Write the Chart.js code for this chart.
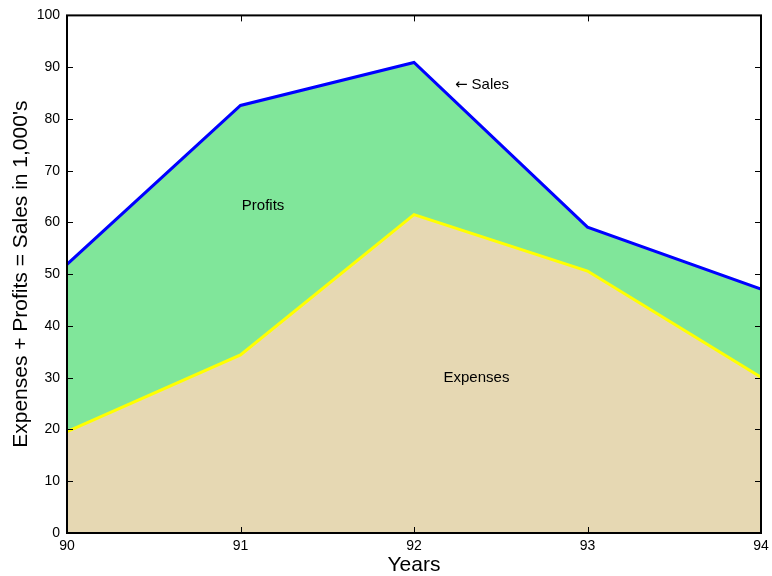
<!doctype html>
<html>

<head>
    <meta charset="utf-8" />
    <title>Sales = Expenses + Profits</title>
    <style>
        html,
        body {
            margin: 0px;
            padding: 0px;
            background-color: #ffffff;
        }

        .chart {
            width: 772px;
            height: 576px;
        }
    </style>
</head>

<body>

    <div class="chart">
        <canvas id="chart_area"></canvas>
    </div>

    <script src="https://cdn.jsdelivr.net/npm/chart.js@4.4.0/dist/chart.umd.min.js"></script>

    <script>

        var years = [90, 91, 92, 93, 94];
        var sales = [51.9, 82.6, 90.9, 59.1, 47.1];
        var expenses = [19.6, 34.4, 61.5, 50.6, 30.1];
        var yTicks = [0, 10, 20, 30, 40, 50, 60, 70, 80, 90, 100];

        // text placed inside the plot, in data units
        var notes = [
            { text: 'Profits', x: 91.13, y: 63.2 },
            { text: 'Sales', x: 92.44, y: 86.6, arrow: true },
            { text: 'Expenses', x: 92.36, y: 29.9 }
        ];

        var font = '"Liberation Sans", Arial, sans-serif';

        // box around the plot with inward ticks, plus the text notes
        var boxPlugin = {
            id: 'box',
            afterDatasetsDraw: function (chart) {
                var ctx = chart.ctx;
                var a = chart.chartArea;
                var xs = chart.scales.x;
                var ys = chart.scales.y;
                var tl = 6;
                ctx.save();
                ctx.strokeStyle = '#000000';
                ctx.lineWidth = 1;
                ctx.beginPath();
                years.forEach(function (yr) {
                    var px = Math.round(xs.getPixelForValue(yr)) + 0.5;
                    ctx.moveTo(px, a.bottom);
                    ctx.lineTo(px, a.bottom - tl);
                    ctx.moveTo(px, a.top);
                    ctx.lineTo(px, a.top + tl);
                });
                yTicks.forEach(function (v) {
                    var py = Math.round(ys.getPixelForValue(v)) + 0.5;
                    ctx.moveTo(a.left, py);
                    ctx.lineTo(a.left + tl, py);
                    ctx.moveTo(a.right, py);
                    ctx.lineTo(a.right - tl, py);
                });
                ctx.stroke();
                ctx.lineWidth = 2;
                ctx.strokeRect(a.left, a.top, a.right - a.left, a.bottom - a.top);

                ctx.fillStyle = '#000000';
                ctx.font = '15px ' + font;
                ctx.textAlign = 'center';
                ctx.textBaseline = 'middle';
                notes.forEach(function (n) {
                    var px = xs.getPixelForValue(n.x);
                    var py = ys.getPixelForValue(n.y);
                    ctx.fillText(n.text, px, py);
                    if (n.arrow) {
                        var w = ctx.measureText(n.text).width;
                        ctx.textAlign = 'right';
                        ctx.font = '15px "DejaVu Sans"';
                        ctx.fillText('\u2190', px - w / 2 - 4, py);
                        ctx.font = '15px ' + font;
                        ctx.textAlign = 'center';
                    }
                });
                ctx.restore();
            }
        };

        var ctx_area = document.getElementById('chart_area').getContext('2d');
        var chart_area = new Chart(ctx_area, {
            type: 'line',
            data: {
                datasets: [
                    {
                        label: 'Expenses',
                        data: years.map((yr, i) => ({ x: yr, y: expenses[i] })),
                        borderColor: '#ffff00',
                        backgroundColor: '#e6d8b3',
                        borderWidth: 3,
                        pointRadius: 0,
                        fill: 'origin',
                        tension: 0
                    },
                    {
                        label: 'Sales',
                        data: years.map((yr, i) => ({ x: yr, y: sales[i] })),
                        borderColor: '#0000ff',
                        backgroundColor: '#80e69a',
                        borderWidth: 3,
                        pointRadius: 0,
                        fill: '-1',
                        tension: 0
                    }
                ]
            },
            options: {
                animation: false,
                responsive: true,
                maintainAspectRatio: false,
                layout: {
                    padding: { left: 0, right: 11, top: 15, bottom: 0 }
                },
                plugins: {
                    legend: { display: false },
                    tooltip: { enabled: false }
                },
                scales: {
                    x: {
                        type: 'linear',
                        min: 90,
                        max: 94,
                        afterFit: function (scale) {
                            scale.height = 43;
                            scale.paddingLeft = 0;
                            scale.paddingRight = 0;
                        },
                        afterBuildTicks: function (scale) {
                            scale.ticks = years.map(v => ({ value: v }));
                        },
                        grid: { display: false, drawTicks: false },
                        border: { display: false },
                        ticks: {
                            padding: 5,
                            color: '#000000',
                            maxRotation: 0,
                            font: { family: font, size: 14 }
                        },
                        title: {
                            display: true,
                            text: 'Years',
                            color: '#000000',
                            padding: { top: 0, bottom: -2 },
                            font: { family: font, size: 21 }
                        }
                    },
                    y: {
                        min: 0,
                        max: 100,
                        afterFit: function (scale) { scale.width = 67; },
                        afterBuildTicks: function (scale) {
                            scale.ticks = yTicks.map(v => ({ value: v }));
                        },
                        grid: { display: false, drawTicks: false },
                        border: { display: false },
                        ticks: {
                            padding: 7,
                            color: '#000000',
                            font: { family: font, size: 14 }
                        },
                        title: {
                            display: true,
                            text: 'Expenses + Profits = Sales in 1,000\'s',
                            color: '#000000',
                            padding: { top: 9, bottom: 0 },
                            font: { family: font, size: 21 }
                        }
                    }
                }
            },
            plugins: [boxPlugin]
        });

    </script>

</body>

</html>
